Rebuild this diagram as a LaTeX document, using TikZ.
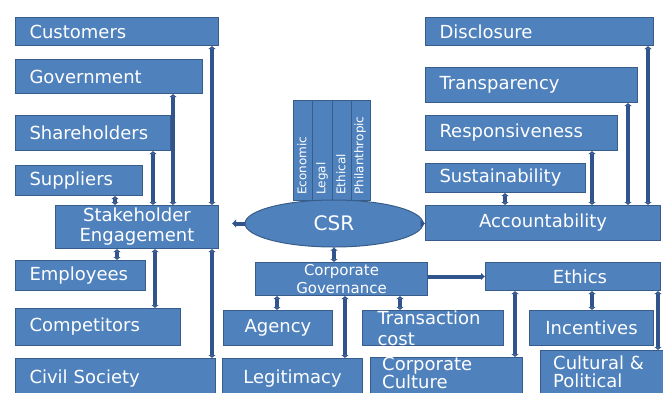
\documentclass[tikz,border=0pt]{standalone}
\usepackage{fontspec}
\setmainfont{DejaVu Sans}
\usetikzlibrary{shapes.geometric,arrows.meta}
\definecolor{boxfill}{RGB}{79,129,189}
\definecolor{boxedge}{RGB}{56,93,138}
\definecolor{linkc}{RGB}{50,84,140}

\begin{document}
\begin{tikzpicture}[x=1pt,y=-1pt,
    box/.style={draw=boxedge, fill=boxfill, line width=1pt, text=white,
      anchor=north west, inner sep=0pt, font=\fontsize{18}{20}\selectfont},
    lbox/.style={box, align=left, inner xsep=14pt},
    cbox/.style={box, align=center},
    btext/.style={anchor=north west, inner sep=0pt, text=white, align=left,
      font=\fontsize{18}{18}\selectfont},
    link/.style={draw=linkc, line width=4pt,
      {Latex[length=3pt,width=8pt]}-{Latex[length=3pt,width=8pt]}},
    vlab/.style={rotate=90, anchor=west, inner sep=0pt, text=white,
      font=\fontsize{12}{12}\selectfont}]

    \useasboundingbox (0,0) rectangle (663,392);
    \clip (0,0) rectangle (663,392);

    % stakeholders
    \node[lbox, text width=175pt, minimum height=28pt] (cust) at (15,17) {Customers};
    \node[lbox, text width=159pt, minimum height=34pt] (gov) at (15,59) {Government};
    \node[lbox, text width=127pt, minimum height=35pt] (share) at (15,115) {Shareholders};
    \node[lbox, text width=99pt, minimum height=30pt] (supp) at (15,165) {Suppliers};
    \node[cbox, minimum width=163pt, minimum height=43pt] (se) at (55,205) {Stakeholder\\Engagement};
    \node[lbox, text width=102pt, minimum height=30pt] (emp) at (15,260) {Employees};
    \node[lbox, text width=137pt, minimum height=37pt] (comp) at (15,308) {Competitors};
    \node[lbox, text width=172pt, minimum height=40pt] (civ) at (15,358) {Civil Society};

    % accountability
    \node[lbox, text width=200pt, minimum height=28pt] (disc) at (425,17) {Disclosure};
    \node[lbox, text width=184pt, minimum height=35pt] (transp) at (425,67) {Transparency};
    \node[lbox, text width=164pt, minimum height=35pt] (resp) at (425,115) {Responsiveness};
    \node[lbox, text width=132pt, minimum height=29pt] (sust) at (425,163) {Sustainability};
    \node[cbox, minimum width=235pt, minimum height=35pt] (acc) at (425,205) {Accountability};

    % csr and its four parts
    \node[box, minimum width=77pt, minimum height=100pt] (parts) at (293,100) {};
    \foreach \x in {312,332,351}
        \draw[boxedge, line width=1pt] (\x,100) -- (\x,200);
    \foreach \x/\t in {302/Economic,322/Legal,341/Ethical,360/Philanthropic}
        \node[vlab] (lab\t) at (\x,195) {\t};
    \node[ellipse, draw=boxedge, fill=boxfill, line width=1pt, text=white,
          minimum width=178pt, minimum height=47pt, inner sep=0pt,
          font=\fontsize{20}{20}\selectfont] (csr) at (334,223.5) {CSR};

    % governance
    \node[cbox, minimum width=172pt, minimum height=33pt,
          font=\fontsize{15}{18}\selectfont] (cg) at (255,262) {Corporate\\Governance};
    \node[cbox, minimum width=109pt, minimum height=35pt] (agency) at (223,310) {Agency};
    \node[cbox, minimum width=140pt, minimum height=40pt] (legit) at (222,358) {Legitimacy};
    \node[lbox, inner xsep=15pt, text width=111pt, minimum height=35pt,
          font=\fontsize{18}{21}\selectfont] (trans) at (362,310) {Transaction\\cost};
    \node[box, minimum width=152pt, minimum height=41pt] (cult) at (370,357) {};
    \node[btext] (culttext) at (382,357) {Corporate\\Culture};
    \node[box, minimum width=175pt, minimum height=28pt, align=center] (ethics) at (485,262) {\hspace*{14pt}Ethics};
    \node[cbox, minimum width=124pt, minimum height=35pt] (incent) at (529,310) {Incentives};
    \node[box, minimum width=123pt, minimum height=48pt] (cultpol) at (540,350) {};
    \node[btext] (cultpoltext) at (553,356) {Cultural \&\\Political};

    % links
    \foreach \n/\x in {cust/212,gov/173,share/153,supp/115}
        \draw[link] (\n.south -| \x,0) -- (se.north -| \x,0);
    \foreach \n/\x in {emp/117,comp/155,civ/212}
        \draw[link] (se.south -| \x,0) -- (\n.north -| \x,0);
    \foreach \n/\x in {sust/505,resp/592,transp/628,disc/648}
        \draw[link] (\n.south -| \x,0) -- (acc.north -| \x,0);
    \foreach \n/\x in {agency/277,legit/345,trans/400}
        \draw[link] (cg.south -| \x,0) -- (\n.north -| \x,0);
    \foreach \n/\x in {cult/515,incent/592,cultpol/658}
        \draw[link] (ethics.south -| \x,0) -- (\n.north -| \x,0);
    \draw[link] (csr.south) -- (cg.north -| csr.south);
    \draw[link, -{Latex[length=4pt,width=9pt]}, shorten >=13pt] (csr.west) -- (se.east |- csr.west);
    \draw[link] (csr.east) -- (acc.west |- csr.east);
    \draw[link, -{Latex[length=4pt,width=8pt]}] (cg.east |- ethics.west) -- (ethics.west);
\end{tikzpicture}
\end{document}
